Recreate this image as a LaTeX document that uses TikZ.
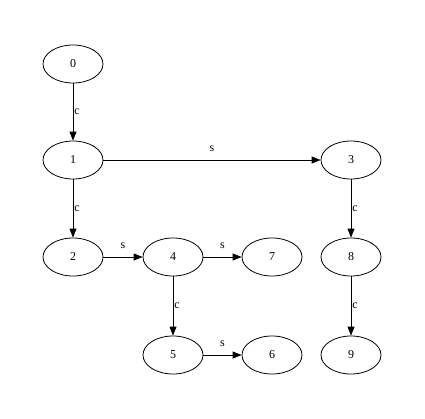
\documentclass[tikz,border=0pt]{standalone}
\usepackage{fontspec}
\setmainfont{Liberation Serif}
\usetikzlibrary{shapes.geometric,positioning,arrows.meta}
\tikzset{
  vertex/.style={ellipse,draw,minimum width=60pt,minimum height=38pt,inner sep=1pt,font=\fontsize{12}{14}\selectfont},
  lbl/.style={font=\fontsize{12}{14}\selectfont,inner sep=1pt},
  >={Triangle[length=9pt,width=7pt]},
}
\begin{document}
\begin{tikzpicture}[x=1pt,y=-1pt,on grid,line width=0.8pt]
  \useasboundingbox (0,0) rectangle (425,418);
  \node[vertex] (0) at (73,64)      {0};
  \node[vertex,below=96pt of 0]  (1) {1};
  \node[vertex,below=97pt of 1]  (2) {2};
  \node[vertex,right=100pt of 2] (4) {4};
  \node[vertex,right=99pt of 4]  (7) {7};
  \node[vertex,below=98pt of 4]  (5) {5};
  \node[vertex,right=99pt of 5]  (6) {6};
  \node[vertex,right=278pt of 1] (3) {3};
  \node[vertex,below=97pt of 3]  (8) {8};
  \node[vertex,below=98pt of 8]  (9) {9};
  \path[->]
    (0) edge node[lbl,right] {c} (1)
    (1) edge node[lbl,right] {c} (2)
    (1) edge node[lbl,above=7pt] {s} (3)
    (2) edge node[lbl,above=7pt] {s} (4)
    (4) edge node[lbl,above=7pt] {s} (7)
    (4) edge node[lbl,right] {c} (5)
    (5) edge node[lbl,above=7pt] {s} (6)
    (3) edge node[lbl,right] {c} (8)
    (8) edge node[lbl,right] {c} (9);
\end{tikzpicture}
\end{document}
